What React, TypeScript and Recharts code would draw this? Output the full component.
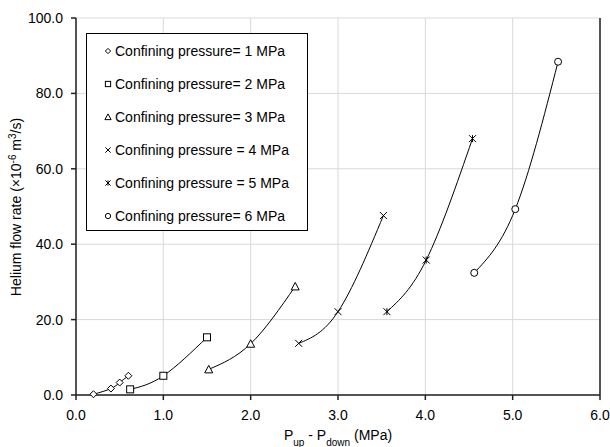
import React from 'react';
import {
    ComposedChart,
    Scatter,
    XAxis,
    YAxis,
    CartesianGrid,
    Legend,
    Label,
    ReferenceLine,
} from 'recharts';

// pressure difference (MPa) and helium flow rate (x10^-6 m3/s) per confining pressure
const p1 = [
    { x: 0.2, y: 0.2 },
    { x: 0.4, y: 1.7 },
    { x: 0.5, y: 3.3 },
    { x: 0.6, y: 5.1 },
];
const p2 = [
    { x: 0.62, y: 1.5 },
    { x: 1.0, y: 5.1 },
    { x: 1.5, y: 15.3 },
];
const p3 = [
    { x: 1.52, y: 6.8 },
    { x: 2.0, y: 13.6 },
    { x: 2.51, y: 28.8 },
];
const p4 = [
    { x: 2.55, y: 13.7 },
    { x: 3.0, y: 22.1 },
    { x: 3.52, y: 47.6 },
];
const p5 = [
    { x: 3.56, y: 22.1 },
    { x: 4.01, y: 35.8 },
    { x: 4.54, y: 68.0 },
];
const p6 = [
    { x: 4.56, y: 32.4 },
    { x: 5.03, y: 49.3 },
    { x: 5.52, y: 88.4 },
];

const seriesNames = [
    'Confining pressure= 1 MPa',
    'Confining pressure= 2 MPa',
    'Confining pressure= 3 MPa',
    'Confining pressure = 4 MPa',
    'Confining pressure = 5 MPa',
    'Confining pressure= 6 MPa',
];
const xTicks = [0, 1, 2, 3, 4, 5, 6];
const yTicks = [0, 20, 40, 60, 80, 100];

const font = '"Liberation Sans", Arial, sans-serif';
type MarkerKind = 'diamond' | 'square' | 'triangle' | 'cross' | 'star' | 'circle';
const markers: MarkerKind[] = ['diamond', 'square', 'triangle', 'cross', 'star', 'circle'];

function Marker({ kind, cx, cy, k = 1 }: { kind: MarkerKind; cx: number; cy: number; k?: number }) {
    const s = { stroke: '#000', strokeWidth: 1, fill: '#fff' };
    const r = 3.5 * k;
    switch (kind) {
        case 'diamond':
            return <polygon points={`${cx},${cy - r} ${cx + r},${cy} ${cx},${cy + r} ${cx - r},${cy}`} {...s} />;
        case 'square':
            return <rect x={cx - r} y={cy - r} width={2 * r} height={2 * r} {...s} />;
        case 'triangle':
            return <polygon points={`${cx},${cy - r - 0.5} ${cx + r + 0.5},${cy + r} ${cx - r - 0.5},${cy + r}`} {...s} />;
        case 'cross':
            return (
                <g {...s}>
                    <line x1={cx - r} y1={cy - r} x2={cx + r} y2={cy + r} />
                    <line x1={cx - r} y1={cy + r} x2={cx + r} y2={cy - r} />
                </g>
            );
        case 'star':
            return (
                <g {...s}>
                    <line x1={cx - r} y1={cy - r} x2={cx + r} y2={cy + r} />
                    <line x1={cx - r} y1={cy + r} x2={cx + r} y2={cy - r} />
                    <line x1={cx} y1={cy - r} x2={cx} y2={cy + r} />
                </g>
            );
        default:
            return <circle cx={cx} cy={cy} r={r} {...s} />;
    }
}

const seriesData = [p1, p2, p3, p4, p5, p6];

function LegendBox() {
    return (
        <div
            style={{
                width: 222,
                height: 198,
                border: '1px solid #000',
                background: '#fff',
                fontFamily: font,
                fontSize: 14,
                color: '#000',
                boxSizing: 'border-box',
                paddingTop: 0,
            }}
        >
            {seriesNames.map((name, i) => (
                <div key={name} style={{ display: 'flex', alignItems: 'center', height: 33, paddingLeft: 16 }}>
                    <svg width={10} height={10} style={{ marginRight: 2 }}>
                        <Marker kind={markers[i]} cx={5} cy={5} k={0.75} />
                    </svg>
                    <span>{name}</span>
                </div>
            ))}
        </div>
    );
}

export default function App() {
    return (
        <div style={{ position: 'absolute', left: 0, top: 0, background: '#fff' }}>
            <ComposedChart width={610} height={447} margin={{ top: 18, right: 10, left: 0, bottom: 0 }}>
                <CartesianGrid stroke="#d9d9d9" horizontalValues={yTicks} verticalValues={xTicks} />
                <XAxis
                    type="number"
                    dataKey="x"
                    domain={[0, 6]}
                    ticks={xTicks}
                    tickFormatter={(v: number) => v.toFixed(1)}
                    height={52}
                    stroke="#222"
                    strokeWidth={1.5}
                    tickSize={5}
                    tickMargin={10}
                    tick={{ fill: '#000', fontSize: 14, fontFamily: font }}
                >
                    <Label
                        content={() => (
                            <text x={338} y={440} textAnchor="middle" fontFamily={font} fontSize={14} fill="#000">
                                P<tspan baselineShift="sub" fontSize={10}>up</tspan> - P
                                <tspan baselineShift="sub" fontSize={10}>down</tspan> (MPa)
                            </text>
                        )}
                    />
                </XAxis>
                <YAxis
                    type="number"
                    dataKey="y"
                    domain={[0, 100]}
                    ticks={yTicks}
                    tickFormatter={(v: number) => v.toFixed(1)}
                    width={76}
                    stroke="#222"
                    strokeWidth={1.5}
                    tickSize={5}
                    tickMargin={8}
                    tick={{ fill: '#000', fontSize: 14, fontFamily: font }}
                >
                    <Label
                        content={() => (
                            <text
                                transform="rotate(-90)"
                                x={-207}
                                y={21}
                                textAnchor="middle"
                                fontFamily={font}
                                fontSize={14}
                                fill="#000"
                            >
                                Helium flow rate (×10<tspan baselineShift="super" fontSize={10}>-6</tspan> m
                                <tspan baselineShift="super" fontSize={10}>3</tspan>/s)
                            </text>
                        )}
                    />
                </YAxis>
                <ReferenceLine x={6} stroke="#222" strokeWidth={1.5} />
                {seriesData.map((d, i) => (
                    <Scatter
                        key={i}
                        name={seriesNames[i]}
                        data={d}
                        line={{ stroke: '#000', strokeWidth: 1 }}
                        lineType="joint"
                        lineJointType="natural"
                        shape={(props: any) => <Marker kind={markers[i]} cx={props.cx} cy={props.cy} />}
                        isAnimationActive={false}
                    />
                ))}
                <Legend
                    layout="vertical"
                    align="center"
                    verticalAlign="middle"
                    wrapperStyle={{ left: 86, top: 33, width: 222, height: 198 }}
                    content={() => <LegendBox />}
                />
            </ComposedChart>
        </div>
    );
}
